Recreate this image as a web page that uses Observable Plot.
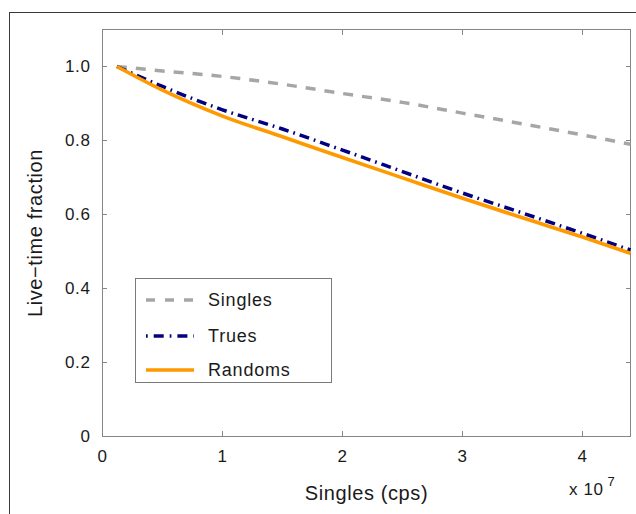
<!DOCTYPE html>
<html>
<head>
<meta charset="utf-8">
<script src="https://cdn.jsdelivr.net/npm/d3@7"></script>
<script src="https://cdn.jsdelivr.net/npm/@observablehq/plot@0.6"></script>
<style>
html, body { margin: 0; padding: 0; background: #fff; }
#fig { position: relative; width: 636px; height: 514px; overflow: hidden; font-family: "Liberation Sans", Arial, sans-serif; }
#outer { position: absolute; left: 9px; top: 12px; width: 900px; height: 900px; border-left: 1.6px solid #3a3a3a; border-top: 1.6px solid #3a3a3a; }
#chart { position: absolute; left: 0; top: 0; }
#legend { position: absolute; left: 135px; top: 278px; width: 197px; height: 105px; box-sizing: border-box; border: 1px solid #7a7a7a; background: #fff; }
</style>
</head>
<body>
<div id="fig">
  <div id="outer"></div>
  <div id="chart"></div>
  <div id="legend"></div>
</div>
<script>
// Singles count rate (cps)
const singlesRate = [1.2e6, 5e6, 1e7, 1.5e7, 2e7, 2.5e7, 3e7, 3.5e7, 4e7, 4.4e7];
// Live-time fraction per series
const singlesLT = [1.000, 0.988, 0.973, 0.952, 0.927, 0.903, 0.874, 0.845, 0.815, 0.790];
const truesLT   = [1.000, 0.946, 0.883, 0.831, 0.774, 0.716, 0.658, 0.604, 0.549, 0.504];
const randomsLT = [1.000, 0.936, 0.866, 0.810, 0.754, 0.699, 0.644, 0.591, 0.539, 0.495];
const seriesNames = ["Singles", "Trues", "Randoms"];
const xTicks = [0, 1e7, 2e7, 3e7, 4e7];
const yTicks = [0, 0.2, 0.4, 0.6, 0.8, 1.0];
const xLabel = "Singles (cps)";
const yLabel = "Live\u2212time fraction";

const styles = {
  Singles: {stroke: "#a6a6a6", strokeWidth: 3.5, strokeDasharray: "10,9"},
  Trues:   {stroke: "#000080", strokeWidth: 3.5, strokeDasharray: "10,5,1.7,5"},
  Randoms: {stroke: "#ff9900", strokeWidth: 3.6, strokeDasharray: null}
};
const seriesValues = {Singles: singlesLT, Trues: truesLT, Randoms: randomsLT};
const rows = name => singlesRate.map((x, i) => ({x, y: seriesValues[name][i]}));

const axisGray = "#868686";
const chart = Plot.plot({
  width: 636,
  height: 514,
  marginLeft: 102,
  marginRight: 6,
  marginTop: 29,
  marginBottom: 78,
  style: {fontFamily: "'Liberation Sans', Arial, sans-serif", fontSize: "17px", color: "#1a1a1a", background: "transparent", letterSpacing: "0.6px"},
  x: {domain: [0, 4.4e7]},
  y: {domain: [0, 1.1]},
  marks: [
    Plot.frame({stroke: axisGray}),
    Plot.axisX(xTicks, {anchor: "bottom", tickSize: -5, tickPadding: 18, stroke: axisGray, tickFormat: d => String(d / 1e7), label: null, fontSize: 17}),
    Plot.axisX(xTicks, {anchor: "top", tickSize: -5, stroke: axisGray, tickFormat: () => "", label: null}),
    Plot.axisY(yTicks, {anchor: "left", tickSize: -5, tickPadding: 17, stroke: axisGray, tickFormat: d => d === 0 ? "0" : d.toFixed(1), label: null, fontSize: 17}),
    Plot.axisY(yTicks, {anchor: "right", tickSize: -5, stroke: axisGray, tickFormat: () => "", label: null}),
    ...seriesNames.map(name => Plot.line(rows(name), {x: "x", y: "y", curve: "monotone-x", strokeLinecap: "butt", ...styles[name]})),
    Plot.text([xLabel], {text: d => d, frameAnchor: "bottom", textAnchor: "middle", lineAnchor: "middle", dy: 57, fontSize: 20}),
    Plot.text([yLabel], {text: d => d, frameAnchor: "left", textAnchor: "middle", lineAnchor: "middle", dx: -67, rotate: -90, fontSize: 20}),
    Plot.text(["x 10"], {text: d => d, frameAnchor: "bottom-right", textAnchor: "end", lineAnchor: "middle", dx: -27, dy: 53, fontSize: 17}),
    Plot.text(["7"], {text: d => d, frameAnchor: "bottom-right", textAnchor: "start", lineAnchor: "middle", dx: -23, dy: 45, fontSize: 13})
  ]
});
document.getElementById("chart").appendChild(chart);

// Legend
const lg = d3.select("#legend").append("svg").attr("width", 195).attr("height", 103)
  .style("font-family", "'Liberation Sans', Arial, sans-serif").style("letter-spacing", "0.8px");
const rowY = [21, 57, 91];
seriesNames.forEach((name, i) => {
  const s = styles[name];
  lg.append("line").attr("x1", 10).attr("x2", 58).attr("y1", rowY[i]).attr("y2", rowY[i])
    .attr("stroke", s.stroke).attr("stroke-width", s.strokeWidth)
    .attr("stroke-dasharray", name === "Singles" ? "9,10" : (name === "Trues" ? "1.7,6,10,6" : null));
  lg.append("text").attr("x", 72).attr("y", rowY[i]).attr("dy", "0.35em")
    .attr("font-size", 18).attr("fill", "#1a1a1a").text(name);
});
</script>
</body>
</html>
